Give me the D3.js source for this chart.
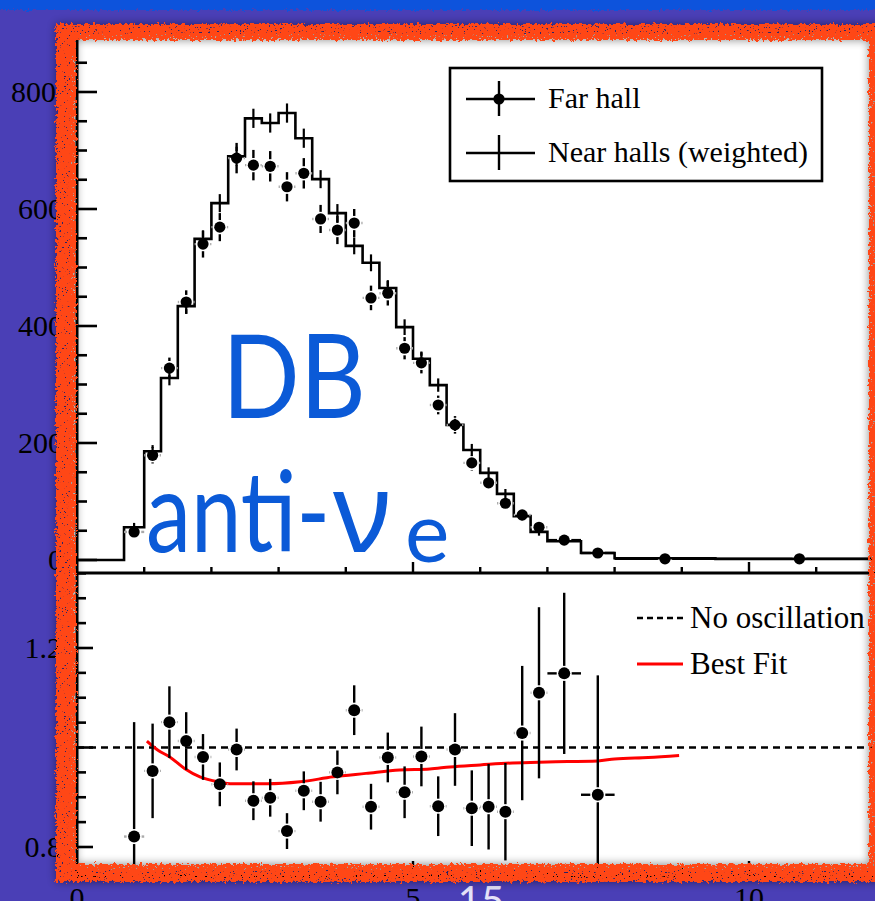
<!DOCTYPE html>
<html><head><meta charset="utf-8">
<script src="https://cdn.jsdelivr.net/npm/d3@7"></script>
<style>html,body{margin:0;padding:0;background:#4b40b8;overflow:hidden}</style>
</head><body>
<svg id="c" width="875" height="901"></svg>
<script>
// ---------- data ----------
const binEdges = [0.7,1.0,1.25,1.5,1.75,2.0,2.25,2.5,2.75,3.0,3.25,3.5,3.75,4.0,4.25,4.5,4.75,5.0,5.25,5.5,5.75,6.0,6.25,6.5,6.75,7.0,7.5,8.0,9.5,12.0];
const farHall   = [48,179,328,441,540,569,687,675,673,638,661,583,564,576,448,456,362,337,265,231,166,132,97,77,56,34,12,2,2];
const farErr    = [8,14,18,20,23,24,26,26,26,25,26,24,24,24,21,21,19,18,16,15,13,11,10,9,8,6,4,2,2];
const nearHalls = [56,186,311,434,549,610,690,755,747,764,721,651,593,537,508,465,398,344,299,231,188,149,113,75,48,32,12,3,2];
const nearErr   = [4,7,9,10,11,12,13,13,13,13,13,12,12,11,11,10,10,9,8,7,7,6,5,4,3,3,2,1,1];
const ratio     = [0.821,0.953,1.051,1.013,0.981,0.926,0.996,0.893,0.899,0.832,0.913,0.891,0.950,1.075,0.881,0.980,0.910,0.982,0.882,0.996,0.878,0.881,0.871,1.029,1.110,1.149,0.905];
const ratioErr  = [0.23,0.095,0.072,0.058,0.046,0.044,0.042,0.039,0.038,0.036,0.039,0.040,0.044,0.050,0.046,0.050,0.052,0.060,0.060,0.073,0.076,0.086,0.098,0.135,0.172,0.162,0.24];
const fitE      = [1.04,1.2,1.38,1.6,1.83,2.1,2.32,2.83,3.32,3.81,4.3,4.8,5.25,5.55,6.0,6.48,7.0,7.75,8.0,8.5,8.96];
const fitR      = [1.013,0.995,0.981,0.958,0.941,0.931,0.927,0.927,0.931,0.941,0.948,0.955,0.957,0.961,0.965,0.969,0.971,0.973,0.977,0.980,0.984];
const topTicks  = [0,200,400,600,800];
const topTickLabels = ["0","200","400","600","800"];
const ratioTicks = [0.8,1.2];
const ratioTickLabels = ["0.8","1.2"];
const xTicks = [0,5,10];
const xTickLabels = ["0","5","10"];
const legendTop = ["Far hall","Near halls (weighted)"];
const legendBottom = ["No oscillation","Best Fit"];

// ---------- scales ----------
const svg = d3.select("#c");
const x  = d3.scaleLinear().domain([0,12]).range([77, 883.4]);
const yT = d3.scaleLinear().domain([0,800]).range([560,92]);
const yR = d3.scaleLinear().domain([0.8,1.2]).range([847,648]);
const serif = "'Liberation Serif','Times New Roman',serif";
const blue = "#0b5ad7";

// ---------- defs ----------
const defs = svg.append("defs");
const rough = defs.append("filter").attr("id","rough").attr("filterUnits","userSpaceOnUse")
  .attr("x",-20).attr("y",-20).attr("width",940).attr("height",960);
rough.append("feTurbulence").attr("type","fractalNoise").attr("baseFrequency","0.3").attr("numOctaves",3).attr("seed",4).attr("result","t");
rough.append("feDisplacementMap").attr("in","SourceGraphic").attr("in2","t").attr("scale",7)
  .attr("xChannelSelector","R").attr("yChannelSelector","G").attr("result","d");
rough.append("feTurbulence").attr("type","fractalNoise").attr("baseFrequency","0.45 0.8").attr("numOctaves",2).attr("seed",9).attr("result","t2");
rough.append("feColorMatrix").attr("in","t2").attr("type","matrix")
  .attr("values","0 0 0 0 0  0 0 0 0 0  0 0 0 0 0  -22 0 0 0 15.9").attr("result","m");
rough.append("feComposite").attr("in","d").attr("in2","m").attr("operator","in");

const roughB = defs.append("filter").attr("id","roughB").attr("filterUnits","userSpaceOnUse")
  .attr("x",-20).attr("y",-20).attr("width",940).attr("height",960);
roughB.append("feTurbulence").attr("type","fractalNoise").attr("baseFrequency","0.3").attr("numOctaves",3).attr("seed",11).attr("result","t");
roughB.append("feDisplacementMap").attr("in","SourceGraphic").attr("in2","t").attr("scale",6)
  .attr("xChannelSelector","R").attr("yChannelSelector","G");

const blur = defs.append("filter").attr("id","blur").attr("filterUnits","userSpaceOnUse")
  .attr("x",-20).attr("y",-20).attr("width",940).attr("height",960);
blur.append("feGaussianBlur").attr("stdDeviation",5);

defs.append("clipPath").attr("id","topClip").append("rect").attr("x",77).attr("y",38).attr("width",800).attr("height",535);
defs.append("clipPath").attr("id","botClip").append("rect").attr("x",77).attr("y",574).attr("width",800).attr("height",302);

// ---------- background ----------
svg.append("rect").attr("width",875).attr("height",901).attr("fill","#4a3fb6");
svg.append("rect").attr("x",-10).attr("y",-10).attr("width",900).attr("height",20).attr("fill","#0a52dc").attr("filter","url(#roughB)");

// tick labels outside frame
const lab = svg.append("g").attr("font-family",serif).attr("font-size",30).attr("fill","#000");
lab.selectAll("text.yt").data(topTicks).join("text")
  .attr("x",(d,i)=> i===topTicks.length-1 ? 56 : 63).attr("y",d=>yT(d)+10)
  .attr("text-anchor","end").text((d,i)=>topTickLabels[i]);
lab.selectAll("text.yr").data(ratioTicks).join("text")
  .attr("x",62).attr("y",d=>yR(d)+10).attr("text-anchor","end").text((d,i)=>ratioTickLabels[i]);
lab.selectAll("text.xt").data(xTicks).join("text")
  .attr("x",d=>x(d)).attr("y",908).attr("text-anchor","middle").text((d,i)=>xTickLabels[i]);
svg.append("text").attr("x",481).attr("y",915).attr("text-anchor","middle")
  .attr("font-family","Lato, 'Open Sans', sans-serif").attr("font-size",40)
  .attr("fill","#e4e2f8").text("15");

// white panel
svg.append("rect").attr("x",70).attr("y",34).attr("width",805).attr("height",836).attr("fill","#fff");

// ---------- axes ----------
const ax = svg.append("g").attr("stroke","#000").attr("fill","none");
ax.append("line").attr("x1",77).attr("x2",77).attr("y1",36).attr("y2",878).attr("stroke-width",3);
ax.append("line").attr("x1",77).attr("x2",880).attr("y1",573).attr("y2",573).attr("stroke-width",3);
ax.append("line").attr("x1",77).attr("x2",880).attr("y1",876).attr("y2",876).attr("stroke-width",3);
ax.selectAll("line.tl").data(d3.range(0,851,50)).join("line")
  .attr("x1",77).attr("x2",d=>d%200===0?97:87).attr("y1",d=>yT(d)).attr("y2",d=>yT(d)).attr("stroke-width",2.6);
ax.selectAll("line.rl").data(d3.range(15,28).map(i=>+(i*0.05).toFixed(2))).join("line")
  .attr("x1",77).attr("x2",d=>[0.8,1,1.2].includes(d)?93:86).attr("y1",d=>yR(d)).attr("y2",d=>yR(d)).attr("stroke-width",2.6);
const xt = d3.range(1,12);
ax.selectAll("line.bt").data(xt).join("line")
  .attr("x1",d=>x(d)).attr("x2",d=>x(d)).attr("y1",573).attr("y2",d=>d%5===0?562:567).attr("stroke-width",2.4);
ax.selectAll("line.bb").data(xt).join("line")
  .attr("x1",d=>x(d)).attr("x2",d=>x(d)).attr("y1",876).attr("y2",d=>d%5===0?861:868).attr("stroke-width",2.4);

// ---------- top panel ----------
const gTop = svg.append("g").attr("clip-path","url(#topClip)");
const stepData = [[0,0]].concat(nearHalls.map((v,i)=>[binEdges[i],v])).concat([[binEdges[binEdges.length-1],nearHalls[nearHalls.length-1]]]);
gTop.append("path").datum(stepData)
  .attr("d", d3.line().x(d=>x(d[0])).y(d=>yT(d[1])).curve(d3.curveStepAfter))
  .attr("fill","none").attr("stroke","#000").attr("stroke-width",2.6);
const centers = binEdges.slice(0,-1).map((e,i)=>(e+binEdges[i+1])/2);
gTop.selectAll("line.ne").data(nearHalls).join("line")
  .attr("x1",(d,i)=>x(centers[i])).attr("x2",(d,i)=>x(centers[i]))
  .attr("y1",(d,i)=>yT(d+nearErr[i])-2).attr("y2",(d,i)=>yT(d-nearErr[i])+2)
  .attr("stroke","#000").attr("stroke-width",2.2);

function drawPoints(g, vals, errs, ys, r){
  vals.forEach((v,i)=>{
    const cx = x(centers[i]), cy = ys(v);
    const e = Math.abs(ys(v+errs[i]) - cy);
    const hw = (x(binEdges[i+1]) - x(binEdges[i]))/2;
    const gap = r + 1.5;
    if (e > gap){
      g.append("line").attr("x1",cx).attr("x2",cx).attr("y1",cy-e).attr("y2",cy-gap).attr("stroke","#000").attr("stroke-width",2.4);
      g.append("line").attr("x1",cx).attr("x2",cx).attr("y1",cy+gap).attr("y2",cy+e).attr("stroke","#000").attr("stroke-width",2.4);
    }
    if (hw > gap){
      const c = hw > 12 ? "#000" : "#aaa";
      g.append("line").attr("x1",cx-hw).attr("x2",cx-gap).attr("y1",cy).attr("y2",cy).attr("stroke",c).attr("stroke-width",2.4);
      g.append("line").attr("x1",cx+gap).attr("x2",cx+hw).attr("y1",cy).attr("y2",cy).attr("stroke",c).attr("stroke-width",2.4);
    }
    g.append("circle").attr("cx",cx).attr("cy",cy).attr("r",r).attr("fill","#000");
  });
}
drawPoints(gTop, farHall, farErr, yT, 5.6);

// ---------- ratio panel ----------
const gBot = svg.append("g").attr("clip-path","url(#botClip)");
gBot.append("line").attr("x1",77).attr("x2",880).attr("y1",yR(1)).attr("y2",yR(1))
  .attr("stroke","#000").attr("stroke-width",2.6).attr("stroke-dasharray","7,5");
gBot.append("path").datum(fitE.map((e,i)=>[e,fitR[i]]))
  .attr("d", d3.line().x(d=>x(d[0])).y(d=>yR(d[1])).curve(d3.curveMonotoneX))
  .attr("fill","none").attr("stroke","#ff0000").attr("stroke-width",3);
drawPoints(gBot, ratio, ratioErr, yR, 6);

// ---------- legends ----------
const lg = svg.append("g");
lg.append("rect").attr("x",450).attr("y",68).attr("width",372).attr("height",113)
  .attr("fill","#fff").attr("stroke","#000").attr("stroke-width",2.6);
[99,153].forEach((yy,i)=>{
  lg.append("line").attr("x1",466).attr("x2",535).attr("y1",yy).attr("y2",yy).attr("stroke","#000").attr("stroke-width",2.4);
  lg.append("line").attr("x1",499).attr("x2",499).attr("y1",yy-18).attr("y2",yy+17).attr("stroke","#000").attr("stroke-width",2.4);
  if(i===0) lg.append("circle").attr("cx",499).attr("cy",yy).attr("r",5.6).attr("fill","#000");
  lg.append("text").attr("x",548).attr("y",yy+9).attr("font-family",serif).attr("font-size",30).text(legendTop[i]);
});
lg.append("line").attr("x1",637).attr("x2",683).attr("y1",618).attr("y2",618)
  .attr("stroke","#000").attr("stroke-width",2.6).attr("stroke-dasharray","6,4");
lg.append("line").attr("x1",637).attr("x2",683).attr("y1",664).attr("y2",664)
  .attr("stroke","#ff0000").attr("stroke-width",3);
lg.append("text").attr("x",690).attr("y",628).attr("font-family",serif).attr("font-size",31).text(legendBottom[0]);
lg.append("text").attr("x",690).attr("y",674).attr("font-family",serif).attr("font-size",31).text(legendBottom[1]);

// ---------- DB / anti-nu_e labels ----------
const sans = "Lato, 'Open Sans', 'Noto Sans', sans-serif";
function fitText(str, x0, y0, size, width, fam){
  const t = svg.append("text").attr("x",0).attr("y",0).attr("font-family",fam).attr("font-size",size)
    .attr("fill",blue).text(str);
  const w = t.node().getComputedTextLength();
  t.attr("transform",`translate(${x0},${y0}) scale(${width/w},1)`);
  return t;
}
fitText("DB", 222, 418, 116, 144, sans);
fitText("anti-", 146, 552, 112, 184, sans);
svg.append("text").attr("x",333).attr("y",552).attr("fill",blue).attr("font-size",112)
  .attr("font-family","'Noto Sans', 'DejaVu Sans', sans-serif").text("ν");
svg.append("text").attr("x",405).attr("y",562).attr("fill",blue).attr("font-size",84)
  .attr("font-family",sans).text("e");

// ---------- orange frame ----------
const ringD = "M56,24 H900 V882 H56 Z M76,40 V864 H869 V40 Z";
svg.append("path").attr("d",ringD).attr("fill-rule","evenodd").attr("fill","#000").attr("opacity",0.45).attr("filter","url(#blur)");
svg.append("path").attr("d",ringD).attr("fill-rule","evenodd").attr("fill","#ff4713").attr("filter","url(#rough)");
</script>
</body></html>
